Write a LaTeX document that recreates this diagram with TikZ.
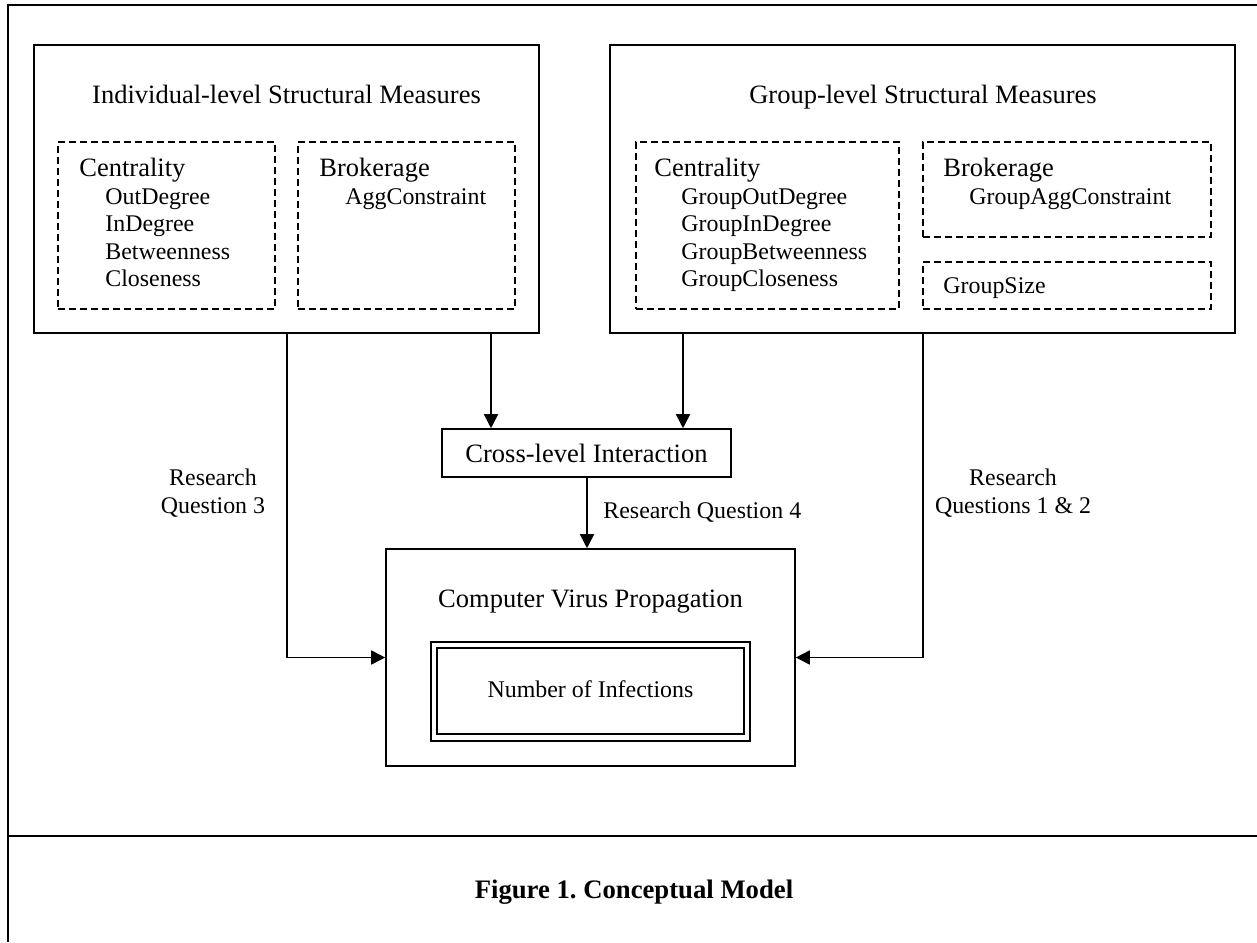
\documentclass[tikz,border=0pt]{standalone}
\usepackage{fontspec}
\setmainfont{Liberation Serif}
\usetikzlibrary{arrows.meta}
\frenchspacing
\begin{document}
\begin{tikzpicture}[x=0.5pt,y=-0.5pt,
  box/.style={draw, line width=0.8pt, inner sep=0pt},
  dbox/.style={draw, line width=0.75pt, dash pattern=on 3.3pt off 2.2pt, inner sep=0pt},
  big/.style={font=\fontsize{13.25}{16}\selectfont, inner sep=0pt},
  small/.style={font=\fontsize{11.95}{14}\selectfont, inner sep=0pt},
  arr/.style={line width=0.85pt, -{Triangle[length=7pt,width=7pt]}},
  frameline/.style={line width=1.35pt}
]
\fill[white] (0,0) rectangle (1257,942);
\useasboundingbox (0,0) rectangle (1257,942);

% outer frame
\draw[frameline] (1257,5) -- (8,5) -- (8,942);
\draw[frameline] (8,836) -- (1257,836);

% main boxes
\node[box, minimum width=252.5pt, minimum height=144pt] (indiv) at (286.5,189) {};
\node[box, minimum width=312.5pt, minimum height=144pt] (group) at (922.5,189) {};
\node[dbox, minimum width=108.5pt, minimum height=83.5pt] (ic) at (166.5,225.5) {};
\node[dbox, minimum width=108.5pt, minimum height=83.5pt] (ib) at (406.5,225.5) {};
\node[dbox, minimum width=131.5pt, minimum height=83.5pt] (gc) at (767.5,225.5) {};
\node[dbox, minimum width=144pt, minimum height=47.5pt] (gb) at (1067,189.5) {};
\node[dbox, minimum width=144pt, minimum height=23.5pt] (gs) at (1067,285.5) {};
\node[box, minimum width=144.5pt, minimum height=24pt] (cross) at (586.5,453) {};
\node[box, minimum width=204.5pt, minimum height=108.5pt] (cvp) at (590.5,657.5) {};
\node[box, line width=1pt, minimum width=159.5pt, minimum height=49.5pt] (noiout) at (590.5,691.5) {};
\node[box, line width=0.9pt, minimum width=153.5pt, minimum height=43pt] (noi) at (590.5,691) {};

% titles
\node[big, anchor=base] (tind) at (286.5,103) {Individual-level Structural Measures};
\node[big, anchor=base] (tgrp) at (923,103) {Group-level Structural Measures};

% individual centrality
\node[big, anchor=base west] (icT) at (79,176) {Centrality};
\node[small, anchor=base west] (ic1) at (105,204) {OutDegree};
\node[small, anchor=base west] (ic2) at (105,231.5) {InDegree};
\node[small, anchor=base west] (ic3) at (105,259) {Betweenness};
\node[small, anchor=base west] (ic4) at (105,286.5) {Closeness};
% individual brokerage
\node[big, anchor=base west] (ibT) at (319,176) {Brokerage};
\node[small, anchor=base west] (ib1) at (345,204) {AggConstraint};

% group centrality
\node[big, anchor=base west] (gcT) at (654,176) {Centrality};
\node[small, anchor=base west] (gc1) at (681,204) {GroupOutDegree};
\node[small, anchor=base west] (gc2) at (681,231.5) {GroupInDegree};
\node[small, anchor=base west] (gc3) at (681,259) {GroupBetweenness};
\node[small, anchor=base west] (gc4) at (681,286.5) {GroupCloseness};
% group brokerage
\node[big, anchor=base west] (gbT) at (943,176) {Brokerage};
\node[small, anchor=base west] (gb1) at (969,204) {GroupAggConstraint};
\node[small, anchor=base west] (gsT) at (943,293) {GroupSize};

% lower texts
\node[big, anchor=base] (tcross) at (586.5,462) {Cross-level Interaction};
\node[big, anchor=base] (tcvp) at (590.5,607) {Computer Virus Propagation};
\node[small, anchor=base] (tnoi) at (590.5,697) {Number of Infections};

% connectors
\coordinate (xa) at (287,0);
\coordinate (xb) at (491,0);
\coordinate (xc) at (683,0);
\coordinate (xd) at (923,0);
\coordinate (xe) at (587,0);
\draw[arr] (indiv.south -| xa) |- (cvp.west);
\draw[arr] (indiv.south -| xb) -- (cross.north -| xb);
\draw[arr] (group.south -| xc) -- (cross.north -| xc);
\draw[arr] (group.south -| xd) |- (cvp.east);
\draw[arr] (cross.south -| xe) -- (cvp.north -| xe);

% connector labels
\node[small, anchor=base west] (rq4) at (603,518) {Research Question 4};
\node[small, anchor=base] (rq3a) at (213,485) {Research};
\node[small, anchor=base] (rq3b) at (213,513) {Question 3};
\node[small, anchor=base] (rq12a) at (1013,485) {Research};
\node[small, anchor=base] (rq12b) at (1013,513) {Questions 1 \& 2};

% caption
\node[font=\fontsize{13.35}{16}\selectfont\bfseries, inner sep=0pt, anchor=base] (cap) at (634,898) {Figure 1. Conceptual Model};
\end{tikzpicture}
\end{document}
